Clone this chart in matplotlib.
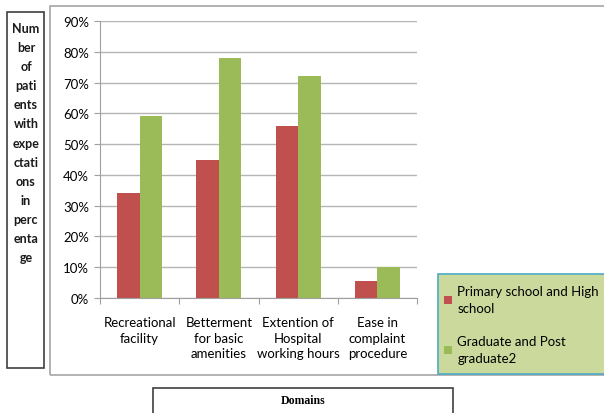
import matplotlib
matplotlib.use("Agg")
import matplotlib.pyplot as plt
from matplotlib.patches import Rectangle
import numpy as np

categories = ["Recreational\nfacility", "Betterment\nfor basic\namenities",
              "Extention of\nHospital\nworking hours", "Ease in\ncomplaint\nprocedure"]
series_names = ["Primary school and High\nschool", "Graduate and Post\ngraduate2"]
primary_high = [34, 45, 56, 5.5]
graduate_post = [59, 78, 72, 10]
ytick_vals = [0, 10, 20, 30, 40, 50, 60, 70, 80, 90]
ylabel_lines = ["Num", "ber", "of", "pati", "ents", "with", "expe", "ctati",
                "ons", "in", "perc", "enta", "ge"]
xlabel = "Domains"

colors = ["#C0504D", "#9BBB59"]
W, H = 604, 414
plt.rcParams['font.family'] = ['Lato', 'DejaVu Sans']
fig = plt.figure(figsize=(W / 100, H / 100), dpi=100)

def fx(x): return x / W
def fy(y): return 1 - y / H

# outer chart frame
fig.add_artist(Rectangle((fx(50), fy(376)), fx(640) - fx(50), fy(7) - fy(376),
                         transform=fig.transFigure, fill=False, edgecolor="#a6a6a6", lw=1.2))
# y label box
fig.add_artist(Rectangle((fx(7), fy(369)), fx(44) - fx(7), fy(13) - fy(369),
                         transform=fig.transFigure, fill=False, edgecolor="#404040", lw=1.2))
for i, t in enumerate(ylabel_lines):
    fig.text(fx(26), fy(29 + i * 19.1), t, ha="center", va="center", fontsize=9,
             fontweight="bold", color="#1a1a1a")

# Domains box
fig.add_artist(Rectangle((fx(153), fy(420)), fx(453) - fx(153), fy(389) - fy(420),
                         transform=fig.transFigure, fill=False, edgecolor="#404040", lw=1.2))
fig.text(fx(303), fy(401), xlabel, ha="center", va="center", fontsize=8.5,
         fontweight="bold", family="Liberation Serif")

ax = fig.add_axes([fx(100), fy(299), fx(417) - fx(100), fy(22) - fy(299)])
x = np.arange(len(categories))
bw = 0.285
b1 = ax.bar(x - bw / 2, primary_high, bw, color=colors[0], label=series_names[0])
b2 = ax.bar(x + bw / 2, graduate_post, bw, color=colors[1], label=series_names[1])
ax.set_xlim(-0.5, len(categories) - 0.5)
ax.set_ylim(0, 90)
ax.set_yticks(ytick_vals)
ax.set_yticklabels([f"{v}%" for v in ytick_vals], fontsize=9.5)
ax.set_xticks(np.arange(-0.5, len(categories), 1.0))
ax.set_xticklabels([])
ax.set_xticks(x, minor=True)
ax.set_xticklabels(categories, minor=True, fontsize=9.5, linespacing=1.35, va="top")
ax.tick_params(axis="x", which="minor", length=0, pad=13)
ax.tick_params(axis="x", which="major", length=4, color="#a0a0a0")
ax.tick_params(axis="y", length=4, color="#a0a0a0", pad=4)
ax.yaxis.grid(True, color="#b5b5b5", lw=1)
ax.set_axisbelow(True)
for s in ["top", "right"]:
    ax.spines[s].set_visible(False)
for s in ["left", "bottom"]:
    ax.spines[s].set_color("#a0a0a0")

# legend box
fig.add_artist(Rectangle((fx(438), fy(375)), fx(606) - fx(438), fy(275) - fy(375),
                         transform=fig.transFigure, facecolor="#CBDA9C", edgecolor="#4BACC6", lw=1.2))
leg = fig.legend(handles=[b1, b2], labels=series_names, loc="upper left",
                 bbox_to_anchor=(fx(444), fy(286)), frameon=False, fontsize=9.5,
                 handlelength=0.6, handleheight=0.6, handletextpad=0.4,
                 labelspacing=1.6, borderaxespad=0, borderpad=0)
for t in leg.get_texts():
    t.set_linespacing(1.5)

fig.savefig("out.png", dpi=100)
